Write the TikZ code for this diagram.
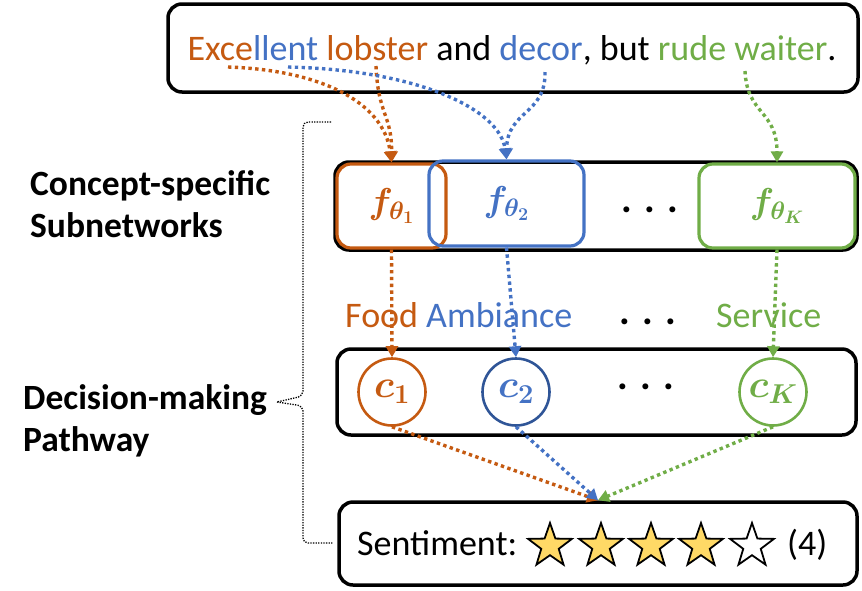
\RequirePackage{fix-cm}
\documentclass[tikz,border=0pt]{standalone}
\usepackage{fontspec}
\setmainfont{Carlito}
\usetikzlibrary{arrows.meta}
\definecolor{cor}{HTML}{C55A11}
\definecolor{cbl}{HTML}{4472C4}
\definecolor{cgr}{HTML}{70AD47}
\definecolor{cdb}{HTML}{2F5597}
\definecolor{cst}{HTML}{FFD966}
\begin{document}
\begin{tikzpicture}[x=1pt,y=-1pt,
  blackbox/.style={draw=black, line width=3.5pt, rounded corners=14pt, inner sep=0pt},
  fbox/.style={line width=3.2pt, rounded corners=14pt, inner sep=0pt, font=\fontsize{36}{40}\selectfont\boldmath},
  cnode/.style={circle, line width=2.6pt, inner sep=0pt, minimum size=67pt, font=\fontsize{39}{44}\selectfont\boldmath},
  dotline/.style={line width=3.4pt, dash pattern=on 3.4pt off 3.4pt, -{Triangle[length=11pt,width=12pt]}},
  big/.style={font=\fontsize{36}{43}\selectfont},
  side/.style={font=\fontsize{35.5}{42}\selectfont\bfseries, align=left, inner sep=0pt},
  dotsty/.style={font=\fontsize{40}{43}\selectfont\bfseries, inner sep=0pt},
  mystar/.pic={\path[pic actions] (0,-23) -- (5.41,-7.44) -- (21.87,-7.11) -- (8.75,2.84) -- (13.52,18.61) -- (0,9.2) -- (-13.52,18.61) -- (-8.75,2.84) -- (-21.87,-7.11) -- (-5.41,-7.44) -- cycle;},
  starsty/.style={draw=black, line width=1.8pt, line join=miter}
]
\useasboundingbox (0,0) rectangle (862,590);
% boxes
\node[blackbox, minimum width=690pt, minimum height=88pt] (top) at (513,48) {};
\node[big, anchor=base] (sent) at (512,60) {\textcolor{cor}{Exce}\textcolor{cbl}{llent} \textcolor{cor}{lobster} and \textcolor{cbl}{decor}, but \textcolor{cgr}{rude waiter}.};
\node[blackbox, minimum width=522pt, minimum height=88pt] (sub) at (596,206) {};
\node[blackbox, minimum width=519pt, minimum height=86pt] (dec) at (596.5,392) {};
\node[blackbox, minimum width=518pt, minimum height=83pt] (res) at (598,543.5) {};
% subnetworks
\node[fbox, draw=cor, text=cor, minimum width=109pt, minimum height=84pt] (f1) at (391.5,206) {$f_{\theta_1}$};
\node[fbox, draw=cbl, text=cbl, minimum width=155pt, minimum height=85pt] (f2) at (506.5,203.5) {$f_{\theta_2}$};
\node[fbox, draw=cgr, text=cgr, minimum width=156pt, minimum height=84pt] (f3) at (777,206) {$f_{\theta_K}$};
\node[dotsty] (d1) at (650,210) {. . .};
% labels
\node[big, text=cor, anchor=base west, inner sep=0pt] (lfood) at (345,327) {Food};
\node[big, text=cbl, anchor=base west, inner sep=0pt] (lamb) at (426,327) {Ambiance};
\node[big, text=cgr, anchor=base west, inner sep=0pt] (lser) at (716,327) {Service};
\node[dotsty] (d2) at (648,322) {. . .};
% concepts
\node[cnode, draw=cor, text=cor] (c1) at (392,392) {$c_1$};
\node[cnode, draw=cdb, text=cbl] (c2) at (516,392) {$c_2$};
\node[cnode, draw=cgr, text=cgr] (cK) at (773,392) {$c_K$};
\node[dotsty] (d3) at (646,387) {. . .};
% sentiment
\node[big, anchor=base west, inner sep=0pt] (stxt) at (357,555) {Sentiment:};
\pic[starsty, fill=cst] at (550,546) {mystar};
\pic[starsty, fill=cst] at (601,546) {mystar};
\pic[starsty, fill=cst] at (651,546) {mystar};
\pic[starsty, fill=cst] at (701,546) {mystar};
\pic[starsty, fill=white] at (752,546) {mystar};
\node[big, anchor=base west, inner sep=0pt] (snum) at (787,555) {(4)};
% side labels
\node[side, anchor=base west] (lsub) at (30,237) {Concept-specific\\Subnetworks};
\node[side, anchor=base west] (ldec) at (23,451) {Decision-making\\Pathway};
% bracket
\coordinate (bt) at (331,122);
\coordinate (bb) at (333,543);
\coordinate (bm) at (277,402);
\draw[line width=1.3pt, dash pattern=on 1.3pt off 1.3pt, rounded corners=5pt] (bt) -- (303,122) -- (303,396) -- (bm);
\draw[line width=1.3pt, dash pattern=on 1.3pt off 1.3pt, rounded corners=5pt] (bm) -- (303,406) -- (303,543) -- (bb);
% start points under words
\coordinate (sExc) at (228,67);
\coordinate (sLl) at (288,67);
\coordinate (sLob) at (376,66);
\coordinate (sDec) at (545,72);
\coordinate (sWai) at (745,71);
% arrows top
\draw[dotline, cor] (sExc) .. controls (320,70) and (384,102) .. (f1.north);
\draw[dotline, cor] (sLob) .. controls (378,115) and (392,115) .. (f1.north);
\draw[dotline, cbl] (sLl) .. controls (420,70) and (500,110) .. (f2.north);
\draw[dotline, cbl] (sDec) .. controls (546,115) and (507,110) .. (f2.north);
\draw[dotline, cgr] (sWai) .. controls (747,115) and (777,110) .. (f3.north);
% arrows middle
\draw[dotline, cor] (f1.south) -- (c1.north);
\draw[dotline, cbl] (f2.south) -- (c2.north);
\draw[dotline, cgr] (f3.south) -- (cK.north);
% arrows bottom
\draw[dotline, cor] (c1.south) -- (res.north);
\draw[dotline, cbl] (c2.south) -- (res.north);
\draw[dotline, cgr] (cK.south) -- (res.north);
\end{tikzpicture}
\end{document}
